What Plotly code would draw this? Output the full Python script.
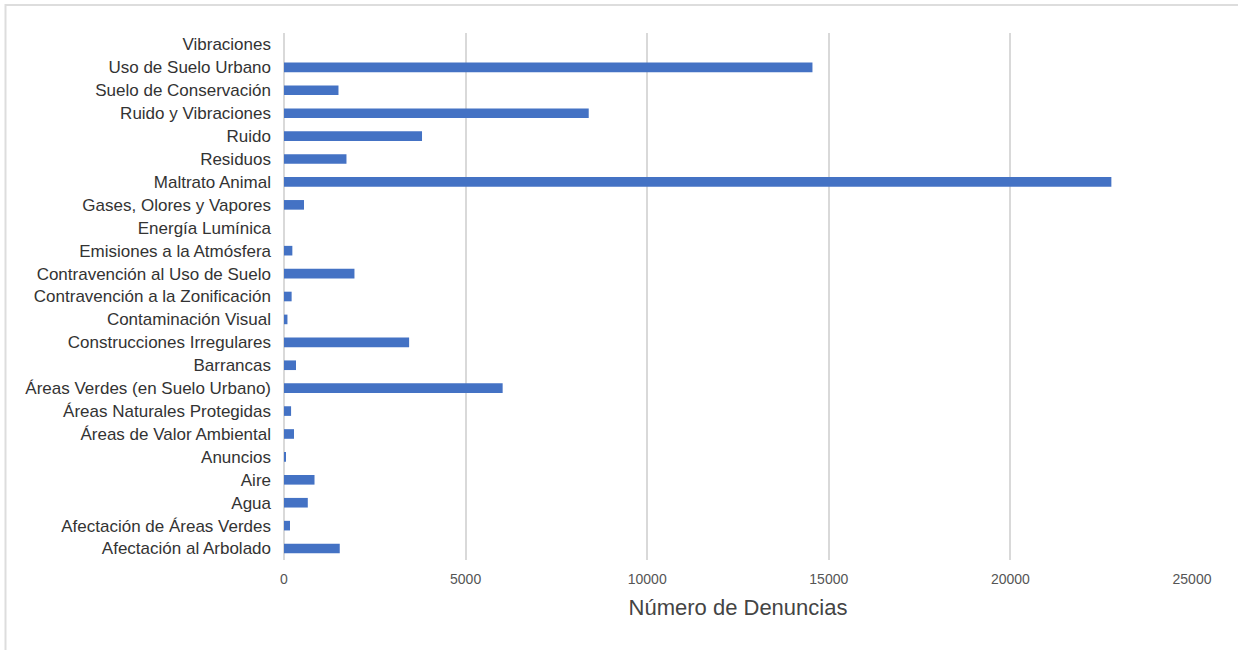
import plotly.graph_objects as go

categories = [
    "Vibraciones", "Uso de Suelo Urbano", "Suelo de Conservación", "Ruido y Vibraciones",
    "Ruido", "Residuos", "Maltrato Animal", "Gases, Olores y Vapores", "Energía Lumínica",
    "Emisiones a la Atmósfera", "Contravención al Uso de Suelo", "Contravención a la Zonificación",
    "Contaminación Visual", "Construcciones Irregulares", "Barrancas",
    "Áreas Verdes (en Suelo Urbano)", "Áreas Naturales Protegidas", "Áreas de Valor Ambiental",
    "Anuncios", "Aire", "Agua", "Afectación de Áreas Verdes", "Afectación al Arbolado",
]
values = [
    0, 14550, 1500, 8390, 3800, 1720, 22780, 550, 0, 230, 1940, 210, 95, 3445, 330,
    6020, 195, 275, 55, 840, 655, 165, 1535,
]
x_ticks = [0, 5000, 10000, 15000, 20000, 25000]

W, H = 1238, 650
L, R, T, B = 284, 46, 33, 90
PW, PH = W - L - R, H - T - B

fig = go.Figure(go.Bar(
    y=categories, x=values, orientation="h",
    marker=dict(color="#4472C4", line=dict(width=0)),
))

fig.update_layout(
    width=W, height=H,
    margin=dict(l=L, r=R, t=T, b=B),
    paper_bgcolor="white", plot_bgcolor="white",
    bargap=0.58,
    showlegend=False,
    font=dict(family="Liberation Sans, Arial, sans-serif"),
    shapes=[dict(type="rect", xref="paper", yref="paper",
                 x0=(5.5 - L) / PW, x1=(W + 20 - L) / PW,
                 y0=-1.5, y1=1 + (T - 5) / PH,
                 line=dict(color="#dddddd", width=2), fillcolor="rgba(0,0,0,0)", layer="below")],
)
fig.update_xaxes(
    range=[0, 25000], tickvals=x_ticks, ticktext=[str(v) for v in x_ticks],
    showgrid=True, gridcolor="#d9d9d9", gridwidth=1.5,
    zeroline=True, zerolinecolor="#d9d9d9", zerolinewidth=1.5,
    tickfont=dict(size=14, color="#555555"),
    title=dict(text="Número de Denuncias", font=dict(size=22, color="#444444"), standoff=13),
    ticks="", ticklabelstandoff=9,
)
fig.update_yaxes(
    categoryorder="array", categoryarray=categories[::-1],
    tickfont=dict(size=17, color="#333333"),
    showgrid=False, ticks="", ticklabelstandoff=12,
)

fig.write_html(
    "out.html",
    config={"displayModeBar": False},
    post_script="document.body.style.margin='0px';document.body.style.overflow='hidden';",
)
